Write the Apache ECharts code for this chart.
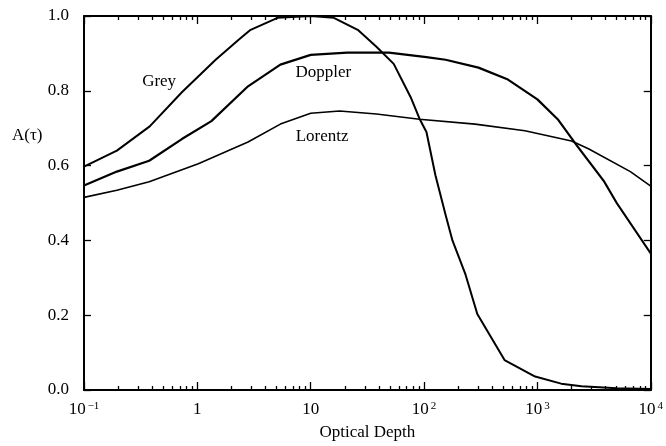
<!DOCTYPE html>
<html>
<head>
<meta charset="utf-8">
<script src="https://cdn.jsdelivr.net/npm/echarts@6.0.0/dist/echarts.min.js"></script>
<style>
  html, body { margin: 0; padding: 0; background: #fff; }
  #chart { width: 666px; height: 446px; }
</style>
</head>
<body>
<div id="chart"></div>
<script>
// optical depth (tau) vs A(tau)
var greyData = [
  [0.1, 0.597], [0.195, 0.64], [0.38, 0.705], [0.73, 0.796], [1.45, 0.883],
  [2.3, 0.936], [2.95, 0.963], [5.1, 0.995], [10, 1.0], [16, 0.995],
  [26, 0.963], [38, 0.918], [54, 0.872], [77, 0.78], [91, 0.726],
  [105, 0.69], [126, 0.574], [155, 0.468], [178, 0.40], [232, 0.309],
  [295, 0.203], [513, 0.08], [955, 0.036], [1620, 0.017], [2450, 0.01],
  [5000, 0.005], [10000, 0.003]
];
var dopplerData = [
  [0.1, 0.547], [0.195, 0.584], [0.376, 0.613], [0.73, 0.671], [1.33, 0.719],
  [2.8, 0.812], [5.4, 0.870], [10, 0.896], [21, 0.902], [49, 0.902],
  [105, 0.89], [155, 0.883], [302, 0.862], [550, 0.830], [1000, 0.777],
  [1510, 0.724], [2240, 0.653], [3890, 0.557], [5010, 0.50], [10000, 0.365]
];
var lorentzData = [
  [0.1, 0.515], [0.195, 0.534], [0.376, 0.557], [1.02, 0.605], [2.8, 0.663],
  [5.4, 0.711], [10, 0.740], [18, 0.746], [38, 0.738], [91, 0.724],
  [282, 0.711], [776, 0.693], [2000, 0.666], [2820, 0.645], [6610, 0.584],
  [10000, 0.545]
];

var xMajor = [0.1, 1, 10, 100, 1000, 10000];
var xLabels = ['10{s|−1}', '1', '10', '10{s|2}', '10{s|3}', '10{s|4}'];
var xMinor = [];
for (var d = 0.1; d < 5000; d *= 10) {
  for (var k = 2; k <= 9; k++) xMinor.push(+(d * k).toPrecision(3));
}

var font = 'Liberation Serif';
var chart = echarts.init(document.getElementById('chart'));

function xAxisDef(pos, ticks, len, withLabels, showLine) {
  return {
    type: 'log', logBase: 10, min: 0.1, max: 10000, position: pos,
    axisLine: { show: showLine, lineStyle: { color: '#000', width: 2 } },
    axisTick: { show: true, inside: true, length: len, customValues: ticks,
      lineStyle: { color: '#000', width: 1.3 } },
    axisLabel: withLabels ? {
      show: true, customValues: xMajor, margin: 11,
      fontFamily: font, fontSize: 17, color: '#000',
      formatter: function (v) {
        var i = xMajor.indexOf(v);
        return i >= 0 ? xLabels[i] : '';
      },
      rich: { s: { fontFamily: font, fontSize: 11, color: '#000', verticalAlign: 'top', padding: [0, 0, 0, 2] } }
    } : { show: false },
    splitLine: { show: false },
    minorSplitLine: { show: false },
    name: withLabels ? 'Optical Depth' : '',
    nameLocation: 'middle', nameGap: 34,
    nameTextStyle: { fontFamily: font, fontSize: 17, color: '#000' }
  };
}

function yAxisDef(pos, withLabels) {
  return {
    type: 'value', min: 0, max: 1, interval: 0.2, position: pos,
    axisLine: { show: true, lineStyle: { color: '#000', width: 2 } },
    axisTick: { show: true, inside: true, length: 7, lineStyle: { color: '#000', width: 1.3 } },
    axisLabel: {
      show: withLabels, margin: 15, fontFamily: font, fontSize: 17, color: '#000',
      formatter: function (v) { return v.toFixed(1); }
    },
    splitLine: { show: false }
  };
}

function curveLabel(text, x, y) {
  return {
    symbol: 'circle', symbolSize: 0, silent: true,
    label: { show: true, position: 'inside', formatter: text,
      fontFamily: font, fontSize: 17, color: '#000' },
    data: [{ coord: [x, y] }]
  };
}

chart.setOption({
  animation: false,
  backgroundColor: '#fff',
  grid: { left: 84, right: 9, top: 16, bottom: 53 },
  xAxis: [
    xAxisDef('bottom', xMajor, 8, true, true),
    xAxisDef('bottom', xMinor, 4, false, false),
    xAxisDef('top', xMajor, 8, false, true),
    xAxisDef('top', xMinor, 4, false, false)
  ],
  yAxis: [yAxisDef('left', true), yAxisDef('right', false)],
  graphic: [{
    type: 'text', left: 12, top: 127,
    style: { text: 'A(τ)', fontFamily: font, fontSize: 17, fill: '#000' }
  }],
  series: [
    { name: 'Grey', type: 'line', data: greyData, showSymbol: false, smooth: false,
      lineStyle: { color: '#000', width: 2, join: 'round' }, markPoint: curveLabel('Grey', 0.46, 0.825) },
    { name: 'Doppler', type: 'line', data: dopplerData, showSymbol: false, smooth: false,
      lineStyle: { color: '#000', width: 2.2, join: 'round' }, markPoint: curveLabel('Doppler', 12.9, 0.849) },
    { name: 'Lorentz', type: 'line', data: lorentzData, showSymbol: false, smooth: false,
      lineStyle: { color: '#000', width: 1.6, join: 'round' }, markPoint: curveLabel('Lorentz', 12.6, 0.679) }
  ]
});
</script>
</body>
</html>
